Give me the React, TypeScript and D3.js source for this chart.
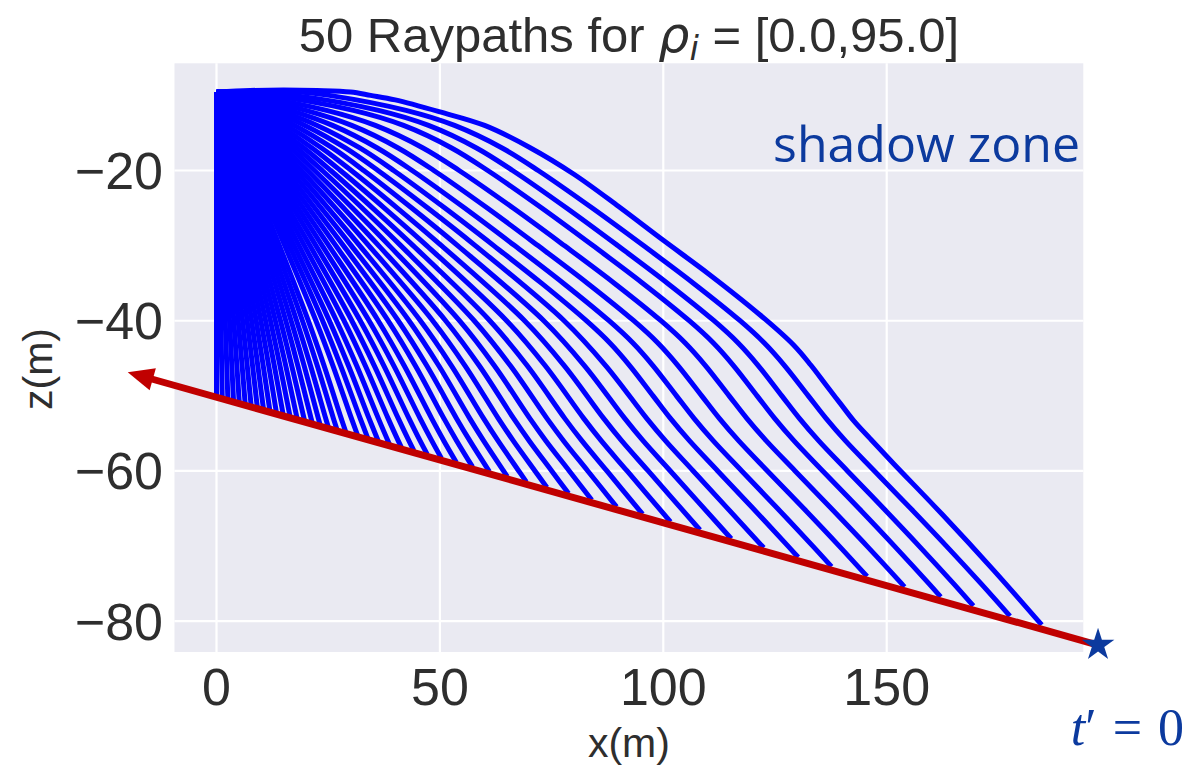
import React from 'react';
import * as d3 from 'd3';

const xTicks = [0, 50, 100, 150];
const zTicks = [-20, -40, -60, -80];

// the three outermost rays (they rise slightly before bending down), read point by point
const topRayX = [
  [0, 7.5, 15, 22.5, 30, 34.5, 40, 50, 60, 70, 80, 90, 100, 110, 121.6, 129.1, 133, 136.6, 139.6, 142.6, 146.3, 151.5, 162.3, 173.9, 184.7],
  [0, 9.3, 18.6, 25.24, 42.42, 53.27, 63.92, 72.0, 84.09, 95.56, 106.73, 117.18, 122.67, 127.18, 132.46, 136.42, 140.79, 147.25, 155.38, 163.37, 171.12, 177.59],
  [0, 6.7, 17.21, 36.27, 47.45, 58.19, 66.27, 78.35, 89.78, 100.92, 111.34, 116.81, 121.29, 126.53, 130.46, 134.81, 141.22, 149.32, 157.26, 164.97, 169.4],
];
const topRayZ = [
  [-9.55, -9.35, -9.28, -9.35, -9.55, -10, -10.6, -12.2, -14.0, -16.9, -20.5, -24.8, -29.3, -33.7, -39.2, -43.2, -45.9, -48.7, -51.0, -53.3, -55.7, -59.0, -65.7, -73.2, -80.5],
  [-9.55, -9.45, -9.55, -10, -12, -14, -17, -20, -25, -30, -35, -40, -43, -46, -50, -53, -56, -60, -65, -70, -75, -79.32],
  [-9.55, -9.55, -10, -12, -14, -17, -20, -25, -30, -35, -40, -43, -46, -50, -53, -56, -60, -65, -70, -75, -77.97],
];

// depth levels (z) at which the x of the other rays was read
const levelsFull = [-9.55, -10, -12, -14, -17, -20, -25, -30, -35, -40, -43, -46, -50, -53, -56, -60, -65, -70, -75];
const levelsMid = [-9.55, -12, -14, -17, -20, -25, -30, -40, -46, -53, -56, -60];
const levelsSteep = [-9.55, -17, -30, -40, -46, -53];

// rays 3..7
const raysFullX = [
  [0, 11.4, 30.64, 41.86, 52.62, 60.71, 72.79, 84.24, 95.38, 105.8, 111.27, 115.75, 120.99, 124.92, 129.27, 135.68, 143.8, 151.74, 159.45],
  [0, 7.09, 24.62, 35.54, 46.22, 54.3, 66.4, 77.86, 89.03, 99.47, 104.96, 109.47, 114.74, 118.69, 123.06, 129.5, 137.61, 145.6, 153.34],
  [0, 4.9, 19.98, 30.26, 40.66, 48.64, 60.61, 71.94, 83.01, 93.38, 98.84, 103.33, 108.6, 112.54, 116.9, 123.31, 131.44, 139.38],
  [0, 3.67, 16.49, 25.98, 35.99, 43.79, 55.53, 66.72, 77.62, 87.85, 93.26, 97.72, 102.95, 106.87, 111.2, 117.56, 125.58, 133.47],
  [0, 2.92, 13.88, 22.54, 32.07, 39.65, 51.11, 62.05, 72.73, 82.77, 88.1, 92.51, 97.71, 101.6, 105.89, 112.18, 120.11, 127.92],
];
// rays 8..29
const raysMidX = [
  [0, 11.93, 19.8, 28.83, 36.14, 47.28, 57.92, 77.81, 87.14, 96.28, 100.51, 106.7],
  [0, 10.35, 17.49, 25.95, 32.96, 43.7, 53.97, 73.25, 82.38, 91.36, 95.51, 101.58],
  [0, 9.1, 15.58, 23.5, 30.18, 40.47, 50.35, 68.96, 77.86, 86.65, 90.71, 96.63],
  [0, 8.09, 13.98, 21.38, 27.73, 37.57, 47.05, 64.94, 73.58, 82.18, 86.14, 91.9],
  [0, 7.26, 12.64, 19.56, 25.57, 34.95, 44.01, 61.18, 69.56, 77.94, 81.8, 87.38],
  [0, 6.56, 11.5, 17.97, 23.67, 32.6, 41.25, 57.69, 65.79, 73.95, 77.7, 83.1],
  [0, 5.97, 10.52, 16.55, 21.94, 30.42, 38.66, 54.38, 62.2, 70.12, 73.74, 78.96],
  [0, 5.46, 9.66, 15.3, 20.4, 28.45, 36.3, 51.29, 58.82, 66.5, 70.01, 75.03],
  [0, 5.02, 8.91, 14.2, 19.0, 26.65, 34.1, 48.39, 55.64, 63.06, 66.44, 71.28],
  [0, 4.62, 8.23, 13.19, 17.73, 24.98, 32.04, 45.64, 52.6, 59.77, 63.03, 67.66],
  [0, 4.28, 7.64, 12.28, 16.57, 23.44, 30.15, 43.09, 49.76, 56.67, 59.8, 64.25],
  [0, 3.98, 7.1, 11.46, 15.51, 22.01, 28.38, 40.68, 47.07, 53.72, 56.72],
  [0, 3.7, 6.62, 10.71, 14.53, 20.68, 26.71, 38.4, 44.51, 50.89, 53.77],
  [0, 3.44, 6.16, 10.0, 13.61, 19.43, 25.13, 36.2, 42.02, 48.15, 50.9],
  [0, 3.21, 5.76, 9.36, 12.77, 18.26, 23.65, 34.15, 39.7, 45.56, 48.2],
  [0, 2.99, 5.38, 8.76, 11.97, 17.16, 22.25, 32.17, 37.47, 43.07, 45.58],
  [0, 2.79, 5.01, 8.19, 11.2, 16.09, 20.9, 30.29, 35.33, 40.68, 43.08],
  [0, 2.61, 4.69, 7.67, 10.52, 15.13, 19.67, 28.54, 33.31, 38.4, 40.68],
  [0, 2.44, 4.38, 7.18, 9.86, 14.2, 18.47, 26.85, 31.38, 36.22, 38.38],
  [0, 2.28, 4.1, 6.73, 9.24, 13.34, 17.36, 25.26, 29.54, 34.14],
  [0, 2.14, 3.84, 6.31, 8.66, 12.51, 16.31, 23.75, 27.79, 32.16],
  [0, 1.98, 3.58, 5.88, 8.1, 11.7, 15.27, 22.25, 26.07, 30.2],
];
// rays 30..49 (nearly vertical, inside the dense block)
const raysSteepX = [
  [0, 5.35, 14.09, 20.54, 24.08, 27.91],
  [0, 5.0, 13.18, 19.23, 22.56, 26.17],
  [0, 4.65, 12.28, 17.93, 21.05, 24.44],
  [0, 4.32, 11.43, 16.7, 19.62, 22.79],
  [0, 4.0, 10.6, 15.5, 18.21, 21.17],
  [0, 3.69, 9.79, 14.32, 16.84, 19.59],
  [0, 3.39, 9.0, 13.18, 15.5],
  [0, 3.11, 8.25, 12.08, 14.21],
  [0, 2.82, 7.5, 10.99, 12.94],
  [0, 2.55, 6.78, 9.93, 11.69],
  [0, 2.28, 6.06, 8.88, 10.46],
  [0, 2.01, 5.35, 7.85, 9.25],
  [0, 1.75, 4.67, 6.85, 8.07],
  [0, 1.49, 3.98, 5.84, 6.88],
  [0, 1.24, 3.31, 4.86, 5.73],
  [0, 0.99, 2.64, 3.87, 4.56],
  [0, 0.74, 1.98, 2.91, 3.43],
  [0, 0.5, 1.33, 1.95, 2.3],
  [0, 0.25, 0.67, 0.98, 1.16],
  [0],
];
// where rays 3..49 meet the t' = 0 wavefront
const rayEndX = [162.08, 153.98, 145.61, 137.65, 130.18, 122.48, 115.21, 108.21, 101.61, 95.37, 89.54, 83.99, 78.8, 73.95, 69.34, 65.08, 61.07, 57.31, 53.69, 50.35, 47.17, 44.17, 41.35, 38.68, 36.17, 33.83, 31.55, 28.92, 26.94, 25.01, 23.18, 21.41, 19.69, 18.03, 16.45, 14.91, 13.4, 11.94, 10.51, 9.13, 7.75, 6.42, 5.09, 3.81, 2.54, 1.28, 0];
const rayEndZ = [-76.76, -75.43, -74.04, -72.73, -71.49, -70.23, -69.02, -67.86, -66.77, -65.75, -64.78, -63.87, -63.01, -62.21, -61.45, -60.75, -60.08, -59.46, -58.86, -58.32, -57.79, -57.29, -56.83, -56.39, -55.98, -55.59, -55.21, -54.78, -54.45, -54.13, -53.82, -53.54, -53.25, -52.98, -52.72, -52.47, -52.21, -51.97, -51.74, -51.5, -51.28, -51.06, -50.84, -50.63, -50.42, -50.21, -50.0];

// annotations (data coordinates)
const wavefrontFrom: [number, number] = [197.3, -83.17];
const wavefrontTo: [number, number] = [-19.87, -46.86];

const W = 1187;
const H = 767;
const plot = { left: 174.5, right: 1083.3, top: 63.3, bottom: 652 };
const ink = '#2e2e2e';
const noteBlue = '#0c3a9e';
const sans = '"Liberation Sans", Arial, sans-serif';

type Pt = [number, number];

export default function App() {
  const x = d3.scaleLinear().domain([-9.4, 194.0]).range([plot.left, plot.right]);
  const y = d3.scaleLinear().domain([-84.1, -5.73]).range([plot.bottom, plot.top]);

  const line = d3
    .line<Pt>()
    .x(d => x(d[0]))
    .y(d => y(d[1]))
    .curve(d3.curveCatmullRom.alpha(0.5));

  const rays: Pt[][] = topRayX.map((xs, i) => xs.map((v, j) => [v, topRayZ[i][j]] as Pt));
  const groups: [number[][], number[]][] = [
    [raysFullX, levelsFull],
    [raysMidX, levelsMid],
    [raysSteepX, levelsSteep],
  ];
  let k = 0;
  groups.forEach(([xsList, levels]) => {
    xsList.forEach(xs => {
      const pts = xs.map((v, j) => [v, levels[j]] as Pt);
      pts.push([rayEndX[k], rayEndZ[k]]);
      rays.push(pts);
      k += 1;
    });
  });

  // red arrow along the wavefront
  const x0 = x(wavefrontFrom[0]);
  const y0 = y(wavefrontFrom[1]);
  const x1 = x(wavefrontTo[0]);
  const y1 = y(wavefrontTo[1]);
  const len = Math.hypot(x1 - x0, y1 - y0);
  const ux = (x1 - x0) / len;
  const uy = (y1 - y0) / len;
  const headLen = 26;
  const headHalf = 11.5;
  const bx = x1 - ux * headLen;
  const by = y1 - uy * headLen;
  const head = `M${x1},${y1}L${bx - uy * headHalf},${by + ux * headHalf}L${bx + uy * headHalf},${by - ux * headHalf}Z`;

  const star = d3.symbol().type(d3.symbolStar).size(330)();

  return (
    <svg width={W} height={H} style={{ position: 'absolute', left: 0, top: 0, display: 'block' }}>
      <rect x={0} y={0} width={W} height={H} fill="#ffffff" />
      <rect
        x={plot.left}
        y={plot.top}
        width={plot.right - plot.left}
        height={plot.bottom - plot.top}
        fill="#eaeaf2"
      />
      {/* grid */}
      {xTicks.map(t => (
        <line key={'gx' + t} x1={x(t)} x2={x(t)} y1={plot.top} y2={plot.bottom} stroke="#ffffff" strokeWidth={2.2} />
      ))}
      {zTicks.map(t => (
        <line key={'gz' + t} x1={plot.left} x2={plot.right} y1={y(t)} y2={y(t)} stroke="#ffffff" strokeWidth={2.2} />
      ))}

      {/* raypaths */}
      <g fill="none" stroke="#0000ff" strokeWidth={5} strokeLinejoin="round" strokeLinecap="butt">
        {rays.map((r, i) => (
          <path key={i} d={line(r) ?? ''} />
        ))}
      </g>

      {/* tick labels */}
      <g fill={ink} fontFamily={sans} fontSize={52}>
        {xTicks.map(t => (
          <text key={'tx' + t} x={x(t)} y={705} textAnchor="middle">
            {t}
          </text>
        ))}
        {zTicks.map(t => (
          <text key={'tz' + t} x={163} y={y(t) + 18.5} textAnchor="end">
            {'\u2212' + Math.abs(t)}
          </text>
        ))}
      </g>

      {/* axis labels */}
      <text x={(plot.left + plot.right) / 2} y={757} textAnchor="middle" fill={ink} fontFamily={sans} fontSize={41}>
        x(m)
      </text>
      <text
        transform={`translate(52,369) rotate(-90)`}
        textAnchor="middle"
        fill={ink}
        fontFamily={sans}
        fontSize={41}
      >
        z(m)
      </text>

      {/* title */}
      <text x={(plot.left + plot.right) / 2} y={52} textAnchor="middle" fill={ink} fontFamily={sans} fontSize={49}>
        <tspan>50 Raypaths for </tspan>
        <tspan fontFamily='"DejaVu Sans", sans-serif' fontStyle="italic">ρ</tspan>
        <tspan fontFamily='"DejaVu Sans", sans-serif' fontStyle="italic" fontSize={34} dy={8}>i</tspan>
        <tspan dy={-8}> = [0.0,95.0]</tspan>
      </text>

      {/* annotations */}
      <line x1={x0} y1={y0} x2={bx + ux * 2} y2={by + uy * 2} stroke="#c00000" strokeWidth={7} />
      <path d={head} fill="#c00000" />
      <path d={star ?? ''} transform={`translate(${x0},${y0})`} fill={noteBlue} />

      <text x={1080} y={162} textAnchor="end" fill={noteBlue} fontFamily='"Open Sans", "Noto Sans", sans-serif' fontSize={50}>
        shadow zone
      </text>
      <text x={1184} y={745} textAnchor="end" fill={noteBlue} fontFamily='"Liberation Serif", "DejaVu Serif", serif' fontSize={52}>
        <tspan fontStyle="italic">t</tspan>
        <tspan>′</tspan>
        <tspan dx={16}>=</tspan>
        <tspan dx={16}>0</tspan>
      </text>
    </svg>
  );
}
